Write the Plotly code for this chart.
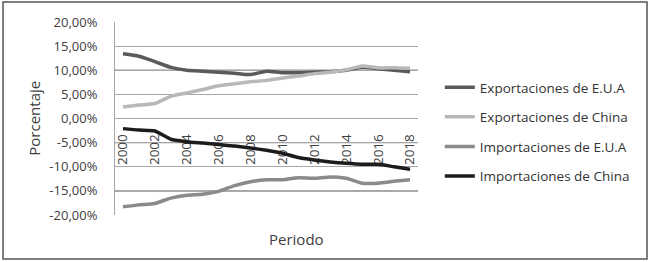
import plotly.graph_objects as go

years = [str(y) for y in range(2000, 2019)]
exp_eua = [13.4, 12.9, 11.8, 10.6, 10.0, 9.8, 9.6, 9.4, 9.1, 9.8, 9.5, 9.5, 9.6, 9.7, 10.0, 10.6, 10.3, 10.0, 9.7]
exp_china = [2.4, 2.8, 3.1, 4.6, 5.3, 6.0, 6.8, 7.2, 7.6, 7.9, 8.4, 8.8, 9.3, 9.6, 10.1, 10.9, 10.5, 10.5, 10.4]
imp_eua = [-18.3, -17.9, -17.6, -16.5, -15.9, -15.7, -15.1, -13.9, -13.1, -12.7, -12.7, -12.3, -12.4, -12.1, -12.4, -13.4, -13.4, -13.0, -12.7]
imp_china = [-2.1, -2.4, -2.6, -4.3, -4.8, -5.1, -5.4, -5.7, -6.1, -6.6, -7.2, -8.1, -8.6, -9.0, -9.3, -9.5, -9.5, -10.0, -10.5]

series_names = ["Exportaciones de E.U.A", "Exportaciones de China", "Importaciones de E.U.A", "Importaciones de China"]
series_values = [exp_eua, exp_china, imp_eua, imp_china]
series_colors = ["#5a5a5a", "#b8b8b8", "#8a8a8a", "#1c1c1c"]

x_tick_labels = [str(y) for y in range(2000, 2019, 2)]
y_tick_vals = [20, 15, 10, 5, 0, -5, -10, -15, -20]
y_tick_text = ["20,00%", "15,00%", "10,00%", "5,00%", "0,00%", "-5,00%", "-10,00%", "-15,00%", "-20,00%"]
dark_grid = [10, -5, -15]

fig = go.Figure()
for name, vals, col in zip(series_names, series_values, series_colors):
    fig.add_trace(go.Scatter(
        x=years, y=vals, name=name, mode="lines", legendgroup=name,
        line=dict(color=col, width=3.5, shape="spline", smoothing=0.6),
    ))

shapes = []
for v in dark_grid:
    shapes.append(dict(type="line", xref="paper", yref="y", x0=0, x1=1, y0=v, y1=v,
                       line=dict(color="#222222", width=1), layer="between"))
# outer frame
shapes.append(dict(type="rect", xref="paper", yref="paper",
                   x0=-0.3696, x1=1.7558, y0=-0.228, y1=1.1036,
                   line=dict(color="#555555", width=1.5)))

fig.update_layout(
    width=650, height=262,
    margin=dict(l=115, r=232, t=22, b=47, autoexpand=False),
    paper_bgcolor="white", plot_bgcolor="rgba(0,0,0,0)",
    font=dict(family="Open Sans", color="#404040"),
    showlegend=True,
    legend=dict(x=1.072, xanchor="left", y=0.43, yanchor="middle",
                font=dict(size=13.5, color="#333333"), tracegroupgap=9,
                bgcolor="rgba(0,0,0,0)"),
    shapes=shapes,
    annotations=[
        dict(text="Porcentaje", x=-0.27, y=0.5, xref="paper", yref="paper",
             xanchor="center", yanchor="middle",
             textangle=-90, showarrow=False, font=dict(size=15, color="#404040")),
        dict(text="Periodo", x=0.60, y=-0.124, xref="paper", yref="paper",
             xanchor="center", yanchor="middle",
             showarrow=False, font=dict(size=15, color="#404040")),
    ],
)
fig.update_xaxes(
    type="category", range=[-0.5, 18.5],
    tickmode="array", tickvals=x_tick_labels, ticktext=x_tick_labels,
    tickangle=-90, tickfont=dict(size=13.5, color="#404040"),
    anchor="free", position=0.5, showline=False, showgrid=False,
    ticks="", layer="below traces", zeroline=False, ticklabelstandoff=12,
)
fig.update_yaxes(
    range=[-20, 20], tickmode="array", tickvals=y_tick_vals, ticktext=y_tick_text,
    tickfont=dict(size=13, color="#404040"),
    showgrid=True, gridcolor="#a6a6a6", gridwidth=1,
    zeroline=False, showline=True, linecolor="#a6a6a6", linewidth=1,
    ticks="", ticklabelstandoff=14,
)

fig.write_html("out.html", config={"displayModeBar": False},
               post_script="document.body.style.margin='0';")
